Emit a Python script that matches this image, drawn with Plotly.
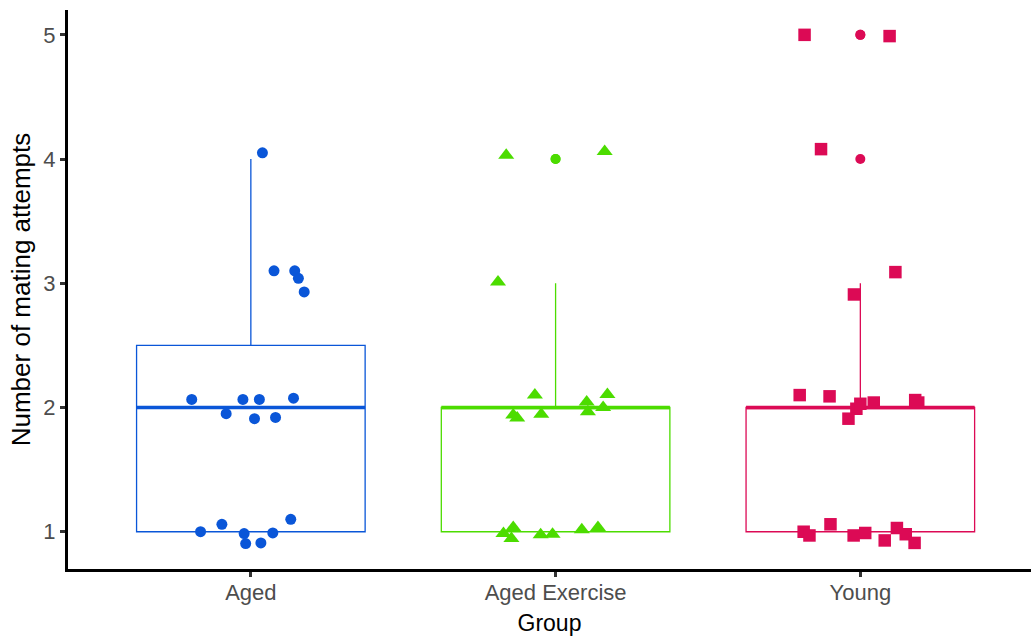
import numpy as np
import plotly.graph_objects as go

# Groups and their colours / point symbols
groups = ["Aged", "Aged Exercise", "Young"]
colors = ["#0a56d8", "#4cdc00", "#dc0a55"]
symbols = ["circle", "triangle-up", "square"]
sizes = [11, 14, 12.5]

# Number of mating attempts per animal
aged_values = [4, 3, 3, 3, 3, 2, 2, 2, 2, 2, 2, 2, 1, 1, 1, 1, 1, 1, 1]
aged_ex_values = [4, 4, 3, 2, 2, 2, 2, 2, 2, 2, 2, 1, 1, 1, 1, 1, 1, 1]
young_values = [5, 5, 4, 3, 3, 2, 2, 2, 2, 2, 2, 2, 2, 1, 1, 1, 1, 1, 1, 1, 1, 1]

# Jitter applied to the plotted points (horizontal, vertical)
aged_jx = [0.038, 0.076, 0.144, 0.156, 0.175, -0.194, -0.081, -0.026, 0.028, 0.012,
           0.081, 0.140, -0.165, -0.095, -0.022, -0.017, 0.033, 0.072, 0.131]
aged_jy = [0.05, 0.10, 0.10, 0.04, -0.07, 0.065, -0.05, 0.065, 0.065, -0.09,
           -0.08, 0.075, 0.00, 0.06, -0.015, -0.095, -0.09, -0.01, 0.10]
aged_ex_jx = [-0.162, 0.161, -0.189, -0.068, -0.139, -0.126, -0.047, 0.102, 0.106, 0.170,
              0.156, -0.171, -0.139, -0.145, -0.049, -0.010, 0.086, 0.139]
aged_ex_jy = [0.03, 0.06, 0.01, 0.10, -0.06, -0.085, -0.055, 0.045, -0.035, 0.105,
              0.0, -0.015, 0.035, -0.055, -0.025, -0.02, 0.015, 0.035]
young_jx = [-0.183, 0.096, -0.129, 0.115, -0.021, -0.199, -0.101, -0.013, 0.000, -0.039,
            0.044, 0.180, 0.190, -0.186, -0.167, -0.098, -0.022, 0.016, 0.080, 0.120,
            0.149, 0.178]
young_jy = [0.0, -0.01, 0.08, 0.09, -0.09, 0.10, 0.09, -0.01, 0.03, -0.09,
            0.04, 0.06, 0.04, 0.0, -0.03, 0.06, -0.03, -0.01, -0.07, 0.03,
            -0.02, -0.09]

values = [aged_values, aged_ex_values, young_values]
jitter_x = [aged_jx, aged_ex_jx, young_jx]
jitter_y = [aged_jy, aged_ex_jy, young_jy]

box_width = 0.75
fig = go.Figure()

for i, name in enumerate(groups):
    pos = i + 1
    vals = np.array(values[i], dtype=float)
    # Box with whiskers and outliers (circles at the box centre)
    fig.add_trace(go.Box(
        x=[pos] * len(vals), y=vals, name=name,
        width=box_width, quartilemethod="inclusive",
        boxpoints="outliers", jitter=0, pointpos=0,
        line=dict(color=colors[i], width=1.3),
        fillcolor="rgba(0,0,0,0)",
        marker=dict(color=colors[i], size=10, symbol="circle"),
        whiskerwidth=0, showlegend=False, hoverinfo="skip",
    ))
    # Thicker median bar
    med = float(np.median(vals))
    fig.add_trace(go.Scatter(
        x=[pos - box_width / 2, pos + box_width / 2], y=[med, med],
        mode="lines", line=dict(color=colors[i], width=3.5),
        showlegend=False, hoverinfo="skip",
    ))

for i, name in enumerate(groups):
    pos = i + 1
    xs = [pos + dx for dx in jitter_x[i]]
    ys = [v + dy for v, dy in zip(values[i], jitter_y[i])]
    fig.add_trace(go.Scatter(
        x=xs, y=ys, mode="markers", name=name,
        marker=dict(color=colors[i], symbol=symbols[i], size=sizes[i], line=dict(width=0)),
        showlegend=False,
    ))

font_family = "Liberation Sans, Arial, sans-serif"
fig.update_layout(
    width=1031, height=637,
    margin=dict(l=68, r=0, t=10, b=68),
    paper_bgcolor="white", plot_bgcolor="white",
    font=dict(family=font_family),
    xaxis=dict(
        range=[0.4, 3.56], tickmode="array", tickvals=[1, 2, 3], ticktext=groups,
        showline=True, linewidth=3, linecolor="black", mirror=False,
        ticks="outside", ticklen=5, tickwidth=3, tickcolor="#333333",
        tickfont=dict(size=22, color="#4d4d4d"), ticklabelstandoff=-3,
        title=dict(text="Group", font=dict(size=23, color="black"), standoff=11),
        showgrid=False, zeroline=False, automargin=False,
    ),
    yaxis=dict(
        range=[0.7, 5.2], tickmode="array", tickvals=[1, 2, 3, 4, 5],
        showline=True, linewidth=3, linecolor="black", mirror=False,
        ticks="outside", ticklen=5, tickwidth=3, tickcolor="#333333",
        tickfont=dict(size=22, color="#4d4d4d"),
        title=dict(text="Number of mating attempts", font=dict(size=26, color="black"), standoff=6),
        showgrid=False, zeroline=False, automargin=False,
    ),
)

fig.write_html("out.html")
